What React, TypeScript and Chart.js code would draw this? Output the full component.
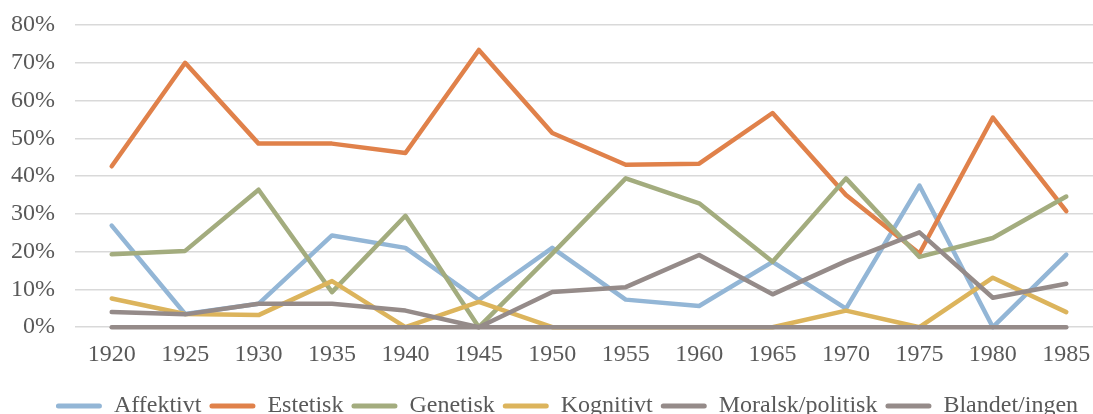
import React, { useEffect, useRef } from "react";
import { Chart, registerables } from "chart.js";

Chart.register(...registerables);

const years = ["1920", "1925", "1930", "1935", "1940", "1945", "1950", "1955", "1960", "1965", "1970", "1975", "1980", "1985"];
const affektivt = [26.9, 3.5, 6.2, 24.3, 21.0, 7.2, 21.0, 7.3, 5.6, 17.3, 4.9, 37.5, 0, 19.2];
const estetisk = [42.6, 70.0, 48.6, 48.6, 46.1, 73.4, 51.4, 43.0, 43.3, 56.7, 35.0, 19.5, 55.5, 30.7];
const genetisk = [19.3, 20.2, 36.4, 9.3, 29.5, 0, 19.5, 39.4, 32.8, 17.3, 39.4, 18.6, 23.6, 34.6];
const kognitivt = [7.6, 3.5, 3.2, 12.2, 0, 6.7, 0, 0, 0, 0, 4.4, 0, 13.1, 4.0];
const moralsk = [4.0, 3.4, 6.2, 6.2, 4.4, 0, 9.3, 10.6, 19.1, 8.7, 17.5, 25.1, 7.8, 11.5];
const blandet = [0, 0, 0, 0, 0, 0, 0, 0, 0, 0, 0, 0, 0, 0];

const seriesNames = ["Affektivt", "Estetisk", "Genetisk", "Kognitivt", "Moralsk/politisk", "Blandet/ingen"];
const seriesColors = ["#93B6D6", "#E0814A", "#A3AC7E", "#DCB45C", "#958B89", "#958B89"];

const FONT = "'Liberation Serif', 'Times New Roman', serif";

const legendShift = {
  id: "legendShift",
  afterLayout(chart: any) {
    const l = chart.legend;
    if (l) {
      l.left += 10;
      l.right += 10;
    }
  },
};

export default function App() {
  const ref = useRef<HTMLCanvasElement | null>(null);
  useEffect(() => {
    if (!ref.current) return;
    const all = [affektivt, estetisk, genetisk, kognitivt, moralsk, blandet];
    const chart = new Chart(ref.current, {
      type: "line",
      data: {
        labels: years,
        datasets: all.map((d, i) => ({
          label: seriesNames[i],
          data: d,
          borderColor: seriesColors[i],
          backgroundColor: seriesColors[i],
          borderWidth: 4.5,
          pointRadius: 0,
          borderCapStyle: "round" as const,
          borderJoinStyle: "round" as const,
          tension: 0,
          order: all.length - i,
          clip: false as any,
        })),
      },
      options: {
        responsive: false,
        animation: false,
        layout: { padding: { top: 25, left: 11, right: 31, bottom: 0 } },
        plugins: {
          tooltip: { enabled: false },
          legend: {
            position: "bottom",
            labels: {
              boxWidth: 46,
              boxHeight: 5,
              padding: 8,
              useBorderRadius: true,
              borderRadius: 2.5,
              color: "#595959",
              font: { family: FONT, size: 24 },
              sort: (a: any, b: any) => a.datasetIndex - b.datasetIndex,
              generateLabels: (c: any) => {
                const items = Chart.defaults.plugins.legend.labels.generateLabels(c);
                return items.map((it: any) => ({ ...it, lineWidth: 0 }));
              },
            },
          },
        },
        scales: {
          x: {
            offset: true,
            grid: { display: false, drawTicks: false },
            border: { display: false },
            ticks: { color: "#595959", font: { family: FONT, size: 24 }, padding: 13, maxRotation: 0 },
            afterFit: (scale: any) => {
              scale.height = scale.height + 4;
            },
          },
          y: {
            min: 0,
            max: 80,
            grid: { color: "#D9D9D9", lineWidth: 1.5, drawTicks: false },
            border: { display: false },
            ticks: {
              stepSize: 10,
              color: "#595959",
              font: { family: FONT, size: 24 },
              padding: 20,
              callback: (v: any) => v + "%",
            },
            afterFit: (scale: any) => {
              scale.width = scale.width - 20;
              scale.paddingTop = 0;
              scale.paddingBottom = 0;
            },
          },
        },
      },
      plugins: [legendShift],
    });
    return () => chart.destroy();
  }, []);
  return (
    <div style={{ position: "fixed", left: 0, top: 0, width: 1093, height: 414, overflow: "hidden", background: "#fff" }}>
      <canvas ref={ref} width={1134} height={428} style={{ display: "block", width: 1134, height: 428 }} />
    </div>
  );
}
